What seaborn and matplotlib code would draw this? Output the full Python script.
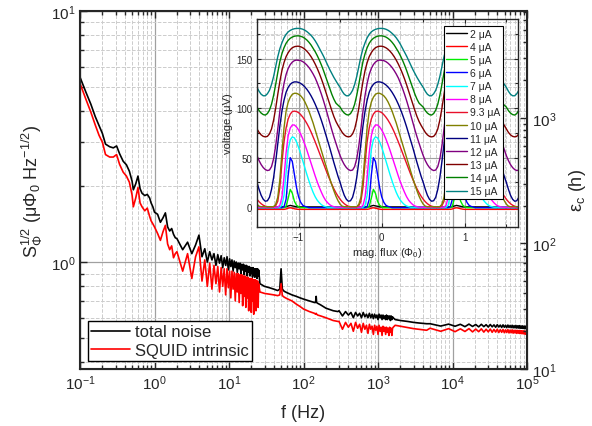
import numpy as np
import pandas as pd
import matplotlib
matplotlib.use("Agg")
import matplotlib.pyplot as plt
import seaborn as sns
from matplotlib.ticker import LogLocator, MultipleLocator, NullFormatter, FixedLocator
from matplotlib.lines import Line2D

# ---- main spectrum ----
# 0.1 - 2 Hz
f_low = [0.10, 0.12, 0.14, 0.16, 0.18, 0.20, 0.22, 0.25, 0.28, 0.31, 0.34, 0.38,
         0.42, 0.46, 0.50, 0.52, 0.56, 0.60, 0.64, 0.68, 0.74, 0.80, 0.86, 0.90,
         0.95, 1.0, 1.1, 1.2, 1.3, 1.4, 1.5, 1.6, 1.7, 1.8, 1.9]
total_low = [5.45, 4.75, 4.25, 3.80, 3.50, 3.25, 2.95, 2.88, 2.85, 2.90, 2.70, 2.52,
             2.44, 2.30, 2.10, 1.94, 2.05, 2.20, 1.96, 1.88, 1.84, 1.86, 1.80, 1.72,
             1.66, 1.58, 1.55, 1.44, 1.50, 1.57, 1.38, 1.33, 1.36, 1.29, 1.25]
squid_low = [5.15, 4.45, 3.95, 3.52, 3.20, 3.00, 2.68, 2.62, 2.62, 2.68, 2.45, 2.28,
             2.20, 2.08, 1.85, 1.66, 1.80, 1.98, 1.72, 1.66, 1.60, 1.64, 1.52, 1.46,
             1.42, 1.38, 1.30, 1.22, 1.32, 1.40, 1.18, 1.12, 1.16, 1.04, 1.08]

# 2 - 25 Hz, noisy band (linear frequency bins)
f_band1 = np.linspace(2.0, 25.0, 60)
total_band1 = [1.24, 1.12, 1.20, 1.08, 1.17, 1.28, 1.05, 1.13, 1.00, 1.10,
               1.02, 1.08, 0.97, 1.07, 0.99, 1.06, 0.95, 1.04, 0.97, 1.05,
               0.93, 1.03, 0.96, 1.02, 0.92, 1.01, 0.95, 1.00, 0.91, 0.99,
               0.94, 0.99, 0.90, 0.98, 0.93, 0.98, 0.89, 0.97, 0.92, 0.97,
               0.88, 0.96, 0.91, 0.96, 0.88, 0.95, 0.90, 0.95, 0.87, 0.95,
               0.89, 0.94, 0.87, 0.94, 0.89, 0.94, 0.86, 0.94, 0.88, 0.93]
squid_band1 = [1.10, 0.92, 1.08, 0.86, 1.05, 1.15, 0.84, 1.02, 0.80, 0.99,
               0.78, 0.97, 0.82, 0.96, 0.76, 0.95, 0.80, 0.94, 0.74, 0.94,
               0.79, 0.92, 0.72, 0.92, 0.78, 0.91, 0.70, 0.90, 0.76, 0.90,
               0.69, 0.89, 0.75, 0.89, 0.67, 0.88, 0.73, 0.88, 0.66, 0.87,
               0.72, 0.87, 0.64, 0.86, 0.71, 0.86, 0.63, 0.86, 0.70, 0.85,
               0.62, 0.85, 0.69, 0.85, 0.64, 0.84, 0.68, 0.84, 0.66, 0.82]

# 25 - 300 Hz (50 Hz and 150 Hz lines)
f_mid = [26, 30, 35, 40, 45, 48, 50, 52, 55, 60, 70, 80, 90, 100, 120, 140,
         145, 148, 150, 155, 170, 200, 250, 290]
total_mid = [0.82, 0.80, 0.79, 0.78, 0.77, 0.78, 0.94, 0.78, 0.765, 0.755, 0.74, 0.73,
             0.72, 0.712, 0.70, 0.69, 0.69, 0.73, 0.69, 0.685, 0.675, 0.655, 0.64, 0.635]
squid_mid = [0.76, 0.75, 0.745, 0.74, 0.735, 0.74, 0.82, 0.735, 0.725, 0.715, 0.70, 0.68,
             0.665, 0.65, 0.635, 0.625, 0.62, 0.625, 0.62, 0.615, 0.61, 0.60, 0.585, 0.58]

# 300 - 1600 Hz noisy band
f_band2 = np.linspace(300, 1600, 40)
total_band2 = [0.64, 0.61, 0.635, 0.615, 0.63, 0.60, 0.63, 0.61, 0.625, 0.60,
               0.63, 0.605, 0.62, 0.60, 0.625, 0.60, 0.62, 0.595, 0.62, 0.60,
               0.615, 0.59, 0.62, 0.60, 0.615, 0.59, 0.615, 0.595, 0.61, 0.59,
               0.615, 0.59, 0.61, 0.595, 0.61, 0.585, 0.61, 0.59, 0.605, 0.60]
squid_band2 = [0.58, 0.54, 0.575, 0.55, 0.57, 0.53, 0.575, 0.545, 0.565, 0.525,
               0.57, 0.54, 0.56, 0.52, 0.565, 0.54, 0.555, 0.515, 0.56, 0.535,
               0.555, 0.515, 0.56, 0.53, 0.55, 0.51, 0.555, 0.53, 0.55, 0.515,
               0.55, 0.525, 0.545, 0.51, 0.55, 0.525, 0.545, 0.51, 0.545, 0.55]

# 1.7 - 4.5 kHz
f_hf = [1700, 2000, 2500, 3000, 3500, 4000, 4500]
total_hf = [0.59, 0.585, 0.58, 0.575, 0.572, 0.57, 0.568]
squid_hf = [0.56, 0.555, 0.548, 0.543, 0.54, 0.537, 0.535]

# 5 - 100 kHz noisy band
f_band3 = np.linspace(5000, 100000, 50)
total_band3 = [0.568, 0.556, 0.566, 0.555, 0.565, 0.553, 0.566, 0.554, 0.564, 0.552,
               0.565, 0.553, 0.563, 0.551, 0.564, 0.552, 0.562, 0.550, 0.563, 0.551,
               0.561, 0.549, 0.562, 0.550, 0.560, 0.548, 0.561, 0.549, 0.559, 0.548,
               0.560, 0.547, 0.558, 0.547, 0.559, 0.546, 0.557, 0.546, 0.558, 0.545,
               0.556, 0.545, 0.557, 0.544, 0.555, 0.543, 0.556, 0.543, 0.554, 0.546]
squid_band3 = [0.545, 0.530, 0.543, 0.528, 0.542, 0.529, 0.543, 0.527, 0.541, 0.528,
               0.542, 0.526, 0.540, 0.527, 0.541, 0.525, 0.539, 0.526, 0.540, 0.524,
               0.538, 0.525, 0.539, 0.523, 0.537, 0.524, 0.538, 0.522, 0.536, 0.523,
               0.537, 0.521, 0.535, 0.522, 0.535, 0.520, 0.534, 0.521, 0.534, 0.519,
               0.533, 0.519, 0.532, 0.518, 0.532, 0.517, 0.531, 0.516, 0.530, 0.517]

trace_names = ["total noise", "SQUID intrinsic"]

# ---- inset: V(flux) curves, one flux period starting at -1.5 Phi0 ----
flux_period = np.arange(40) * 0.025 - 1.5
currents = ["2 μA", "4 μA", "5 μA", "6 μA", "7 μA", "8 μA", "9.3 μA",
            "10 μA", "11 μA", "12 μA", "13 μA", "14 μA", "15 μA"]
v_2uA = [0.3] * 14 + [0.6, 1.2, 1.8, 1.3, 0.7, 0.4] + [0.3] * 20
v_4uA = [-2.2] * 14 + [-1.8, -1.0, -0.6, -1.0, -1.6, -2.0] + [-2.2] * 20
v_5uA = [-0.5] * 14 + [1, 9, 18, 14, 6, 2, 0.5] + [-0.5] * 19
v_6uA = [-0.5] * 13 + [0.5, 8, 32, 50, 46, 33, 20, 10.5, 5, 2, 0.8, 0.3] + [-0.5] * 15
v_7uA = ([0] * 12 + [2, 12, 35, 58, 68, 71, 70, 66, 60.5, 54, 47, 40, 33, 26.5,
                     20.5, 15, 10.5, 7, 4.5, 2.5, 1.2, 0.5] + [0] * 6)
v_8uA = ([0] * 11 + [2, 10, 30, 55, 72, 80, 83, 83, 81, 78, 74, 69, 63.5, 57.5, 51,
                     44.5, 38, 31.5, 25.5, 20, 15, 10.5, 7, 4.5, 2.5, 1.2, 0.5] + [0] * 2)
v_9uA = [8, 5.5, 3.5, 2, 1, 0.5, 0.5, 0.5, 0.5, 1.5, 6, 20, 45, 66, 80, 89, 94, 96.5,
         97, 96.5, 95.5, 93.5, 91, 88, 84.5, 80.5, 76, 71, 66, 60.5, 55, 49.5, 44,
         38.5, 33, 28, 23, 18.5, 14.5, 11]
v_10uA = [3, 1, 0.5, 0.5, 0.5, 0.5, 0.5, 0.5, 0.5, 3, 10, 28, 55, 80, 97, 106, 111,
          114, 115, 115, 114, 112.5, 110, 106.5, 102, 97, 91, 85, 78, 71, 64, 57, 50,
          43, 36, 29, 22.5, 16.5, 11, 6.5]
v_11uA = [25, 18, 12, 8, 6, 6.5, 10, 18, 30, 46, 64, 82, 97, 108, 116, 121, 124,
          125.8, 126.5, 126.5, 126, 125, 123.5, 121.5, 119, 116, 112.5, 108.5, 104,
          99, 93.5, 87.5, 81, 74, 67, 60, 52.5, 45, 38, 31]
v_12uA = [52, 47, 43, 40, 38, 37, 37.5, 41, 49, 62, 79, 97, 113, 125, 134, 140, 144,
          146.5, 148, 148.5, 148.3, 148, 147, 145.5, 143.5, 141, 138, 134.5, 130.5,
          125.5, 120, 114, 107.5, 100.5, 93, 85.5, 78, 71, 64.5, 58]
v_13uA = [79, 75.5, 73, 71.5, 71, 71.5, 74, 79, 88, 100, 114, 127, 138, 146, 152,
          156, 159, 161, 162, 162.5, 162.5, 162, 161, 159.5, 157.5, 155, 152, 148.5,
          144.5, 140, 135, 129.5, 123.5, 117, 110.5, 104, 97.5, 91.5, 86.5, 82.5]
v_14uA = [101, 97.5, 95, 93.5, 93, 94.5, 98, 104, 113, 124, 136, 147, 155, 161,
          165.5, 168.5, 170.5, 171.8, 172.6, 173, 173, 172.6, 171.8, 170.5, 168.8,
          166.5, 163.8, 160.5, 157, 153, 148.5, 143.5, 138, 132, 126, 120, 114, 109,
          105, 103]
v_15uA = [121, 117, 114, 112.5, 112.5, 114.5, 118, 124, 132, 142, 152, 160, 166, 171,
          174.5, 177, 178.5, 179.5, 180.2, 180.5, 180.5, 180.3, 179.7, 178.7, 177.3,
          175.5, 173.5, 171, 168, 164.5, 160.5, 156.5, 152.5, 148, 143.5, 139, 135,
          131, 127.5, 124]
curve_colors = ["#000000", "#ff0000", "#00ee00", "#0000ff", "#00ffff", "#ff00ff",
                "#e8102a", "#808000", "#000080", "#800080", "#800000", "#008000",
                "#008080"]


def main():
    sns.set_style("ticks")
    plt.rcParams["font.family"] = ["Liberation Sans", "DejaVu Sans"]
    plt.rcParams["mathtext.fontset"] = "custom"
    plt.rcParams["mathtext.rm"] = "Liberation Sans"
    plt.rcParams["mathtext.it"] = "Liberation Sans"
    plt.rcParams["mathtext.default"] = "regular"

    # long table for the spectra
    f_all = np.concatenate([f_low, f_band1, f_mid, f_band2, f_hf, f_band3])
    total = np.concatenate([total_low, total_band1, total_mid, total_band2, total_hf, total_band3])
    squid = np.concatenate([squid_low, squid_band1, squid_mid, squid_band2, squid_hf, squid_band3])
    df = pd.concat([
        pd.DataFrame({"f": f_all, "S": total, "trace": trace_names[0]}),
        pd.DataFrame({"f": f_all, "S": squid, "trace": trace_names[1]}),
    ])

    fig = plt.figure(figsize=(5.92, 4.27), dpi=100)
    ax = fig.add_axes([80 / 592, 1 - 370 / 427, 447 / 592, 358 / 427])
    sns.lineplot(data=df, x="f", y="S", hue="trace", hue_order=trace_names,
                 palette={"total noise": "black", "SQUID intrinsic": "red"},
                 estimator=None, sort=False, lw=1.2, legend=False, ax=ax)
    ax.set_xscale("log")
    ax.set_yscale("log")
    ax.set_xlim(0.1, 1e5)
    s_lo, s_hi = 0.375, 10
    ax.set_ylim(s_lo, s_hi)
    ax.xaxis.set_major_locator(FixedLocator([0.1, 1, 10, 100, 1e3, 1e4, 1e5]))
    ax.yaxis.set_major_locator(FixedLocator([1, 10]))
    ax.xaxis.set_minor_locator(LogLocator(base=10, subs=np.arange(2, 10), numticks=20))
    ax.yaxis.set_minor_locator(LogLocator(base=10, subs=np.arange(2, 10), numticks=20))
    ax.xaxis.set_minor_formatter(NullFormatter())
    ax.yaxis.set_minor_formatter(NullFormatter())
    ax.set_axisbelow(True)
    ax.grid(which="major", color="#a0a0a0", ls="-", lw=0.9)
    ax.grid(which="minor", color="#cccccc", ls="--", lw=0.7)
    ax.tick_params(which="both", direction="in", top=True, right=False, labelsize=11, width=1)
    ax.tick_params(which="major", length=5)
    ax.tick_params(which="minor", length=3)
    for sp in ax.spines.values():
        sp.set_linewidth(1.5)
    ax.set_xlabel("f (Hz)", fontsize=13, labelpad=8)
    ax.set_ylabel(r"S$_\Phi^{1/2}$ ($\mu\Phi_0$ Hz$^{-1/2}$)", fontsize=13, labelpad=4)

    handles = [Line2D([], [], color="black", lw=1.2), Line2D([], [], color="red", lw=1.2)]
    leg = ax.legend(handles, trace_names, loc="lower left", bbox_to_anchor=(0.018, 0.022),
                    borderaxespad=0, fontsize=12, frameon=True, fancybox=False,
                    edgecolor="black", framealpha=1, handlelength=2.3,
                    handletextpad=0.3, borderpad=0.2, labelspacing=0.2)
    leg.get_frame().set_linewidth(1.0)

    # right axis: coupled energy scales with S^2
    ax2 = ax.twinx()
    ax2.set_yscale("log")
    eps_lo = 10
    ax2.set_ylim(eps_lo, eps_lo * (s_hi / s_lo) ** 2)
    ax2.yaxis.set_major_locator(FixedLocator([10, 100, 1000]))
    ax2.yaxis.set_minor_locator(LogLocator(base=10, subs=np.arange(2, 10), numticks=20))
    ax2.yaxis.set_minor_formatter(NullFormatter())
    ax2.tick_params(which="both", direction="in", labelsize=11, width=1)
    ax2.tick_params(which="major", length=5)
    ax2.tick_params(which="minor", length=3)
    ax2.set_ylabel(r"$\varepsilon_c$ (h)", fontsize=13, labelpad=8)

    # inset
    n_rep = 4
    flux = np.concatenate([flux_period + k for k in range(n_rep)])
    series = [v_2uA, v_4uA, v_5uA, v_6uA, v_7uA, v_8uA, v_9uA, v_10uA, v_11uA,
              v_12uA, v_13uA, v_14uA, v_15uA]
    dfi = pd.concat([pd.DataFrame({"flux": flux, "V": np.tile(v, n_rep), "I": lab})
                     for v, lab in zip(series, currents)])
    axin = fig.add_axes([257 / 592, 1 - 228 / 427, 261 / 592, 208 / 427])
    axin.set_facecolor("none")
    sns.lineplot(data=dfi, x="flux", y="V", hue="I", hue_order=currents,
                 palette=dict(zip(currents, curve_colors)), estimator=None,
                 sort=False, lw=1.0, legend=False, ax=axin)
    axin.set_xlim(-1.5, 1.64)
    axin.set_ylim(-20, 190)
    axin.xaxis.set_major_locator(MultipleLocator(1))
    axin.xaxis.set_minor_locator(MultipleLocator(0.5))
    axin.yaxis.set_major_locator(MultipleLocator(50))
    axin.yaxis.set_minor_locator(MultipleLocator(25))
    axin.set_axisbelow(True)
    axin.grid(which="major", color="#a0a0a0", ls="-", lw=0.8)
    axin.grid(which="minor", color="#cccccc", ls="--", lw=0.6)
    axin.tick_params(which="both", direction="in", top=True, right=True, labelsize=7, width=0.8)
    axin.tick_params(which="major", length=3)
    axin.tick_params(which="minor", length=2)
    for sp in axin.spines.values():
        sp.set_linewidth(1.0)
    axin.set_xlabel(r"mag. flux ($\Phi_0$)", fontsize=8, labelpad=2)
    axin.set_ylabel("voltage (μV)", fontsize=8, labelpad=2)
    ihandles = [Line2D([], [], color=c, lw=1.0) for c in curve_colors]
    ileg = axin.legend(ihandles, currents, loc="upper right", bbox_to_anchor=(0.943, 0.966),
                       borderaxespad=0, fontsize=7.5, frameon=True, fancybox=False,
                       edgecolor="black", framealpha=1, handlelength=2.0,
                       handletextpad=0.3, borderpad=0.25, labelspacing=0.3)
    ileg.get_frame().set_linewidth(0.8)

    fig.savefig("out.png", dpi=100)


if __name__ == "__main__":
    main()
